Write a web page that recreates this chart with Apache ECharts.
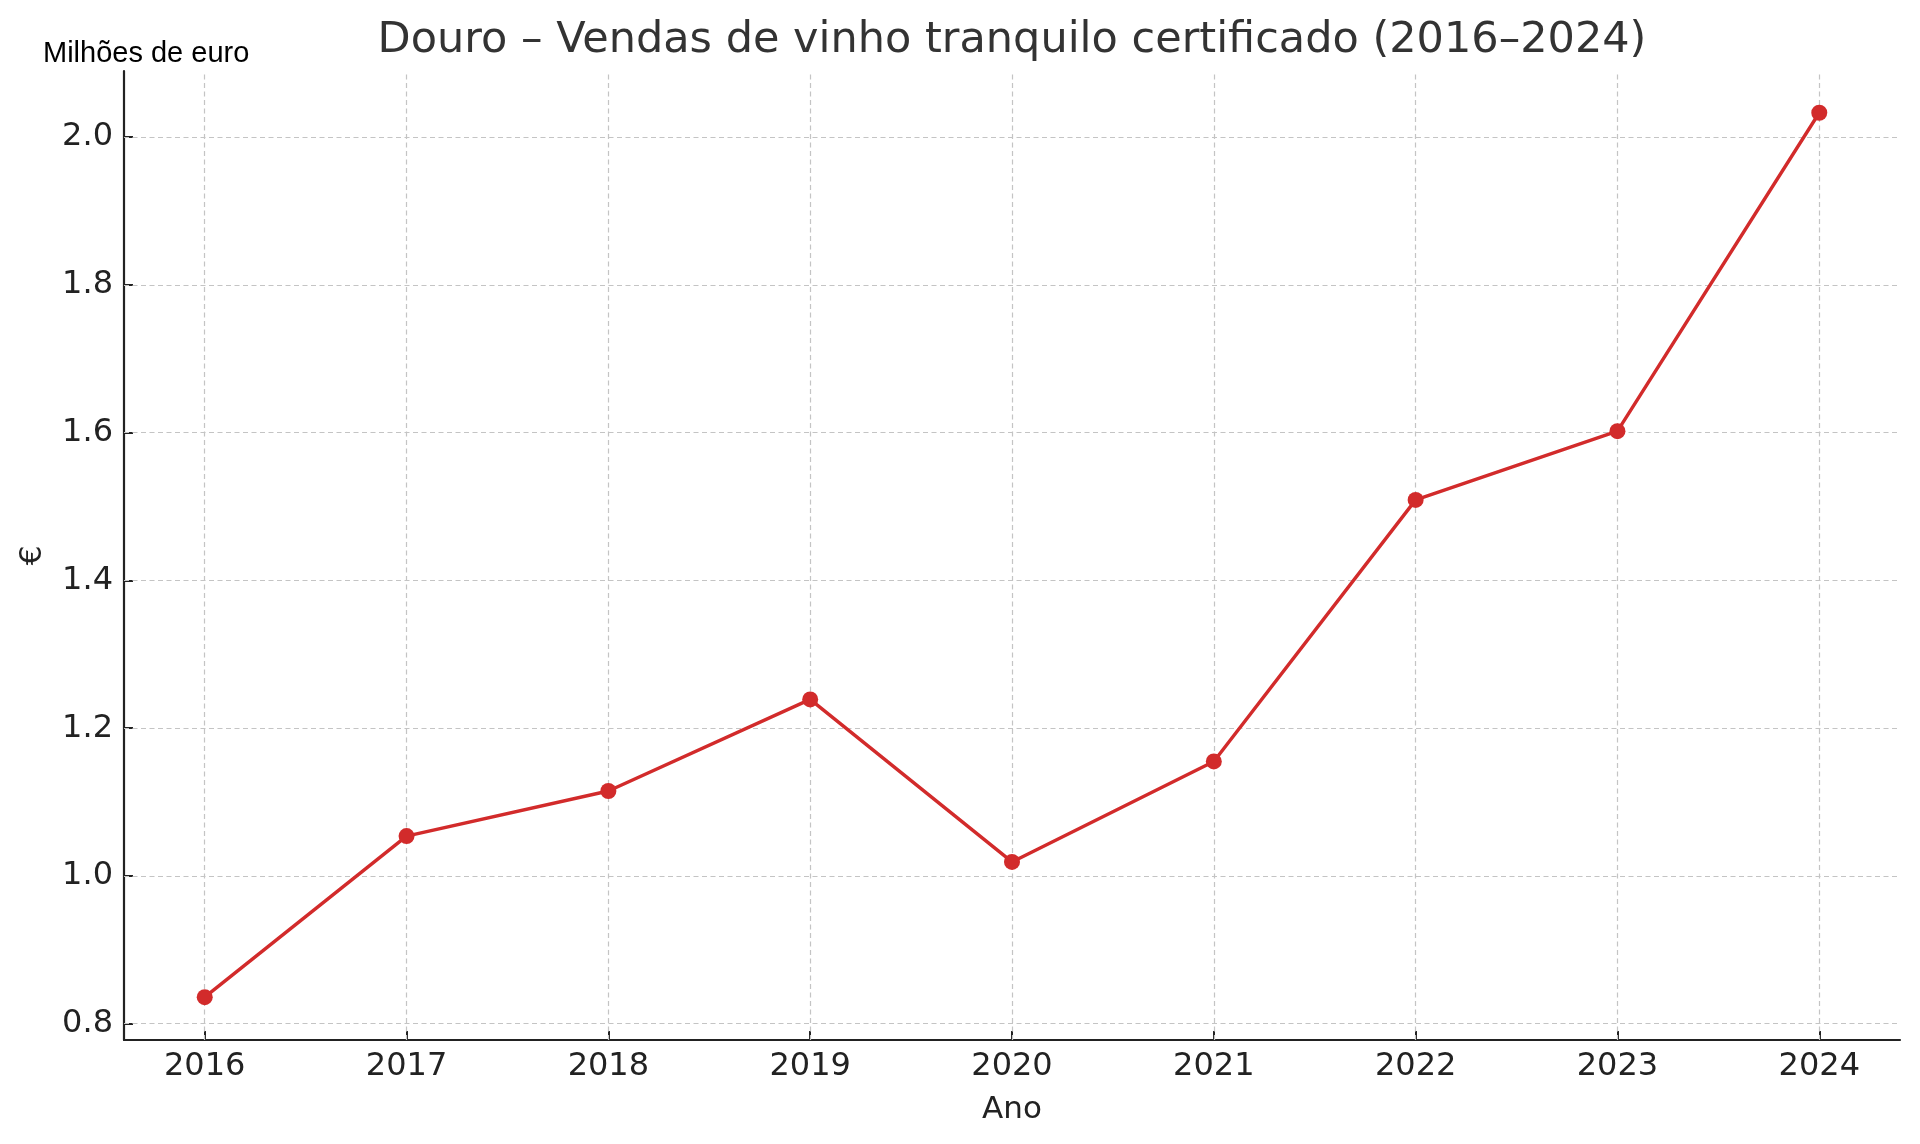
<!DOCTYPE html>
<html>
<head>
<meta charset="utf-8">
<script src="https://cdn.jsdelivr.net/npm/echarts@6/dist/echarts.min.js"></script>
<style>html,body{margin:0;padding:0;background:#fff}#c{width:1920px;height:1144px}</style>
</head>
<body>
<div id="c"></div>
<script>
const years = [2016, 2017, 2018, 2019, 2020, 2021, 2022, 2023, 2024];
const sales = [0.836, 1.054, 1.115, 1.239, 1.019, 1.155, 1.509, 1.602, 2.033];
const yTicks = [0.8, 1.0, 1.2, 1.4, 1.6, 1.8, 2.0];

const chart = echarts.init(document.getElementById('c'), null, {renderer: 'canvas'});
const gridDash = {color: '#c4c4c4', width: 1.2, type: [5, 3.5]};
chart.setOption({
  animation: false,
  backgroundColor: '#ffffff',
  title: [
    {text: 'Douro – Vendas de vinho tranquilo certificado (2016–2024)', left: 1012, textAlign: 'center', top: 19, padding: 0,
     textStyle: {fontFamily: 'DejaVu Sans', fontSize: 43, fontWeight: 'normal', color: '#333333'}},
    {text: 'Milhões de euro', left: 43, top: 39, padding: 0,
     textStyle: {fontFamily: 'Liberation Sans', fontSize: 29, fontWeight: 'normal', color: '#000000'}}
  ],
  grid: {left: 124, right: 20, top: 71, bottom: 104, containLabel: false},
  xAxis: {
    type: 'value', min: 2015.6, max: 2024.4,
    name: 'Ano', nameLocation: 'middle', nameGap: 54,
    nameTextStyle: {fontFamily: 'DejaVu Sans', fontSize: 31, color: '#222222'},
    axisLine: {show: true, lineStyle: {color: '#222222', width: 2.2}},
    axisTick: {show: true, inside: true, length: 9, customValues: years, lineStyle: {color: '#222222', width: 2}},
    axisLabel: {customValues: years, margin: 11, fontFamily: 'DejaVu Sans', fontSize: 32, color: '#222222', formatter: v => String(v)},
    splitLine: {show: false}
  },
  yAxis: {
    type: 'value', min: 0.778, max: 2.0895,
    name: '€', nameLocation: 'middle', nameGap: 76, nameRotate: 90,
    nameTextStyle: {fontFamily: 'DejaVu Sans', fontSize: 31, color: '#222222'},
    axisLine: {show: true, lineStyle: {color: '#222222', width: 2.2}},
    axisTick: {show: true, inside: true, length: 9, customValues: yTicks, lineStyle: {color: '#222222', width: 2}},
    axisLabel: {customValues: yTicks, margin: 11, fontFamily: 'DejaVu Sans', fontSize: 32, color: '#222222', formatter: v => v.toFixed(1)},
    splitLine: {show: false}
  },
  series: [
    {
      type: 'line',
      data: years.map((y, i) => [y, sales[i]]),
      symbol: 'circle', symbolSize: 16,
      lineStyle: {color: '#d22b2b', width: 3.4},
      itemStyle: {color: '#d22b2b'},
      z: 5,
      markLine: {
        silent: true, symbol: 'none', label: {show: false}, animation: false,
        lineStyle: gridDash,
        data: years.map(y => ({xAxis: y})).concat(yTicks.map(t => ({yAxis: t})))
      }
    }
  ]
});
</script>
</body>
</html>
